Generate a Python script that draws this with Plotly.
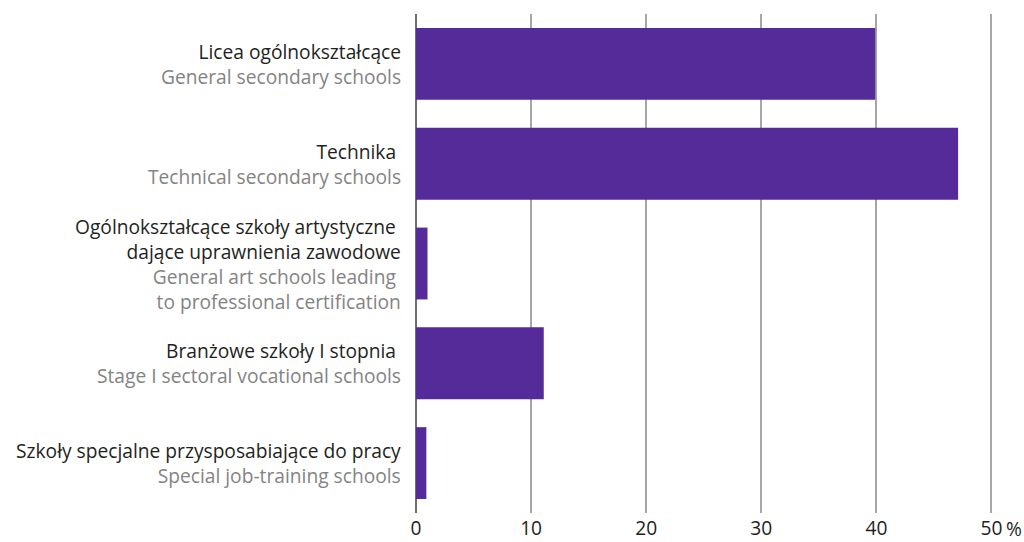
import plotly.graph_objects as go

# School types (Polish name lines, English name lines) and share in %
pl_labels = [
    ["Licea ogólnokształcące"],
    ["Technika\u00a0"],
    ["Ogólnokształcące szkoły artystyczne\u00a0", "dające uprawnienia zawodowe"],
    ["Branżowe szkoły I stopnia\u00a0"],
    ["Szkoły specjalne przysposabiające do pracy"],
]
en_labels = [
    ["General secondary schools"],
    ["Technical secondary schools"],
    ["General art schools leading\u00a0", "to professional certification"],
    ["Stage I sectoral vocational schools"],
    ["Special job-training schools"],
]
values = [39.9, 47.1, 1.0, 11.1, 0.9]
x_ticks = [0, 10, 20, 30, 40, 50]

BAR = "#552b9a"
DARK = "#231f20"
GREY = "#838383"
FONT = "Open Sans"
SIZE = 19.2

positions = list(range(len(values)))

fig = go.Figure(
    go.Bar(
        x=values,
        y=positions,
        orientation="h",
        marker=dict(color=BAR, line=dict(width=0)),
        width=0.72,
        hoverinfo="skip",
    )
)

fig.update_layout(
    width=1024,
    height=542,
    margin=dict(l=416, r=21, t=14, b=29),
    paper_bgcolor="white",
    plot_bgcolor="white",
    showlegend=False,
    font=dict(family=FONT, size=SIZE, color=DARK),
    xaxis=dict(
        range=[0, 51],
        tickvals=x_ticks,
        ticktext=[str(v) for v in x_ticks],
        showgrid=True,
        gridcolor="#a6a6a6",
        gridwidth=1.5,
        zeroline=True,
        zerolinecolor="#6e6e6e",
        zerolinewidth=1.5,
        showline=False,
        ticks="",
        ticklabelstandoff=2,
        tickfont=dict(family=FONT, size=SIZE, color=DARK),
        automargin=False,
        fixedrange=True,
    ),
    yaxis=dict(
        range=[len(values) - 0.5, -0.5],
        showticklabels=False,
        showgrid=False,
        zeroline=False,
        showline=False,
        ticks="",
        automargin=False,
        fixedrange=True,
    ),
)

# category labels: Polish lines in dark, English lines in grey, right-aligned
for pos, pl, en in zip(positions, pl_labels, en_labels):
    parts = [f"<span style='color:{DARK}'>{t}</span>" for t in pl]
    parts += [f"<span style='color:{GREY}'>{t}</span>" for t in en]
    fig.add_annotation(
        x=0, xref="paper", y=pos, yref="y",
        text="<br>".join(parts), showarrow=False,
        align="right", xanchor="right", yanchor="middle",
        xshift=-13,
        font=dict(family=FONT, size=SIZE, color=DARK),
    )

# percent sign after the last tick label
fig.add_annotation(
    x=50, y=0, xref="x", yref="paper",
    text="%", showarrow=False,
    xanchor="left", yanchor="middle",
    xshift=14, yshift=-15, borderpad=0,
    font=dict(family=FONT, size=SIZE, color=DARK),
)

fig.write_html("out.html")
